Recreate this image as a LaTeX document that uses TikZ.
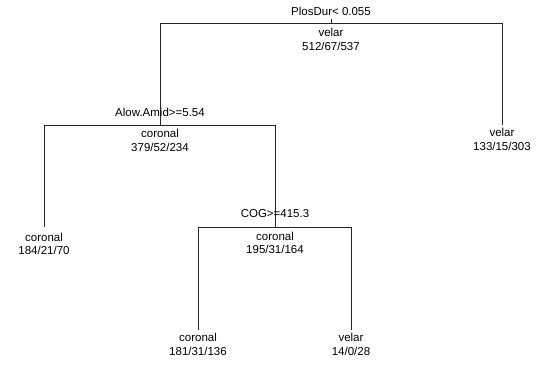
\documentclass[tikz,border=0pt]{standalone}
\usepackage{fontspec}
\setmainfont{Liberation Sans}
\begin{document}
\begin{tikzpicture}[x=1pt,y=-1pt,
  txt/.style={inner sep=0pt,anchor=center,font=\fontsize{11.5}{13}\selectfont},
  edge/.style={draw=black!85,line width=0.9pt}]
\useasboundingbox (0,0) rectangle (539,365);
% split coordinates
\coordinate (rtop) at (331,19);
\coordinate (rbar) at (331,23);
\coordinate (abar) at (160,125);
\coordinate (vbar) at (502,125);
\coordinate (lbar) at (44,227);
\coordinate (cbar) at (275,227);
\coordinate (llbar) at (198,330);
\coordinate (lrbar) at (351,330);
% connectors
\draw[edge] (rtop) -- (rbar);
\draw[edge] (rbar) -| (abar);
\draw[edge] (rbar) -| (vbar);
\draw[edge] (abar) -| (lbar);
\draw[edge] (abar) -| (cbar);
\draw[edge] (cbar) -| (llbar);
\draw[edge] (cbar) -| (lrbar);
% labels
\node[txt] (rsplit) at (331,11) {PlosDur< 0.055};
\node[txt] (rcls) at (331,32) {velar};
\node[txt] (rcnt) at (331,46) {512/67/537};
\node[txt] (asplit) at (160,112.5) {Alow.Amid>=5.54};
\node[txt] (acls) at (160,133.5) {coronal};
\node[txt] (acnt) at (160,147) {379/52/234};
\node[txt] (vcls) at (502,132) {velar};
\node[txt] (vcnt) at (502,146.5) {133/15/303};
\node[txt] (lcls) at (44,237) {coronal};
\node[txt] (lcnt) at (44,250) {184/21/70};
\node[txt] (csplit) at (275,214) {COG>=415.3};
\node[txt] (ccls) at (275,236) {coronal};
\node[txt] (ccnt) at (275,249.5) {195/31/164};
\node[txt] (llcls) at (198,337.5) {coronal};
\node[txt] (llcnt) at (198,351) {181/31/136};
\node[txt] (lrcls) at (351,337.5) {velar};
\node[txt] (lrcnt) at (351,351) {14/0/28};
\end{tikzpicture}
\end{document}
